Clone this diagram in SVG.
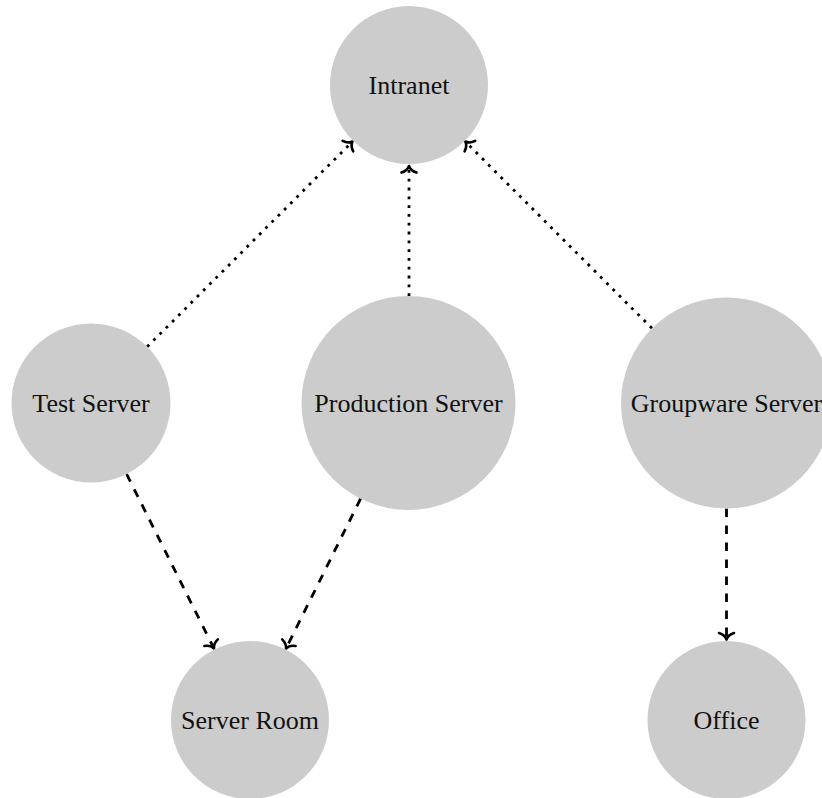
<svg xmlns="http://www.w3.org/2000/svg" width="822" height="798" viewBox="0 0 822 798">
  <style>
    .node circle { fill: #cccccc; }
    .node text { font-family: "Liberation Serif", "Times New Roman", serif; font-size: 26px; fill: #111111; text-anchor: middle; }
    .edge { fill: none; stroke: #000000; stroke-width: 2.8; }
    .dotted { stroke-dasharray: 2.8 6; }
    .dashed { stroke-dasharray: 8.5 8.5; }
  </style>
  <defs>
    <marker id="arrow" markerUnits="userSpaceOnUse" viewBox="-10 -10 14 20" markerWidth="14" markerHeight="20" refX="0" refY="0" orient="auto" overflow="visible">
      <path d="M-6.5,-7.5 C-5.2,-3.2 -2,-0.7 0,0 C-2,0.7 -5.2,3.2 -6.5,7.5" fill="none" stroke="#000" stroke-width="2.6" stroke-linecap="round" stroke-linejoin="round"/>
    </marker>
  </defs>
  <rect width="822" height="798" fill="#ffffff"/>
  <g id="connectors">
    <line class="edge dotted" x1="147.2" y1="346.8" x2="352.5" y2="141.5" marker-end="url(#arrow)"/>
    <line class="edge dotted" x1="409" y1="296" x2="409" y2="166" marker-end="url(#arrow)"/>
    <line class="edge dotted" x1="652" y1="328.3" x2="465.3" y2="141.5" marker-end="url(#arrow)"/>
    <line class="edge dashed" x1="126.6" y1="474.1" x2="214" y2="648.5" marker-end="url(#arrow)"/>
    <line class="edge dashed" x1="360.6" y1="498.7" x2="286" y2="648.5" marker-end="url(#arrow)"/>
    <line class="edge dashed" x1="726.5" y1="508.5" x2="726.5" y2="639.5" marker-end="url(#arrow)"/>
  </g>
  <g id="intranet" class="node">
    <circle cx="409" cy="85" r="79"/>
    <text x="409" y="94">Intranet</text>
  </g>
  <g id="test-server" class="node">
    <circle cx="91" cy="403" r="79.5"/>
    <text x="91" y="412">Test Server</text>
  </g>
  <g id="production-server" class="node">
    <circle cx="408.5" cy="403" r="107"/>
    <text x="408.5" y="412">Production Server</text>
  </g>
  <g id="groupware-server" class="node">
    <circle cx="726.5" cy="403" r="105.5"/>
    <text x="726.5" y="412">Groupware Server</text>
  </g>
  <g id="server-room" class="node">
    <circle cx="250" cy="720" r="79"/>
    <text x="250" y="729">Server Room</text>
  </g>
  <g id="office" class="node">
    <circle cx="726.5" cy="720" r="79"/>
    <text x="726.5" y="729">Office</text>
  </g>
</svg>
